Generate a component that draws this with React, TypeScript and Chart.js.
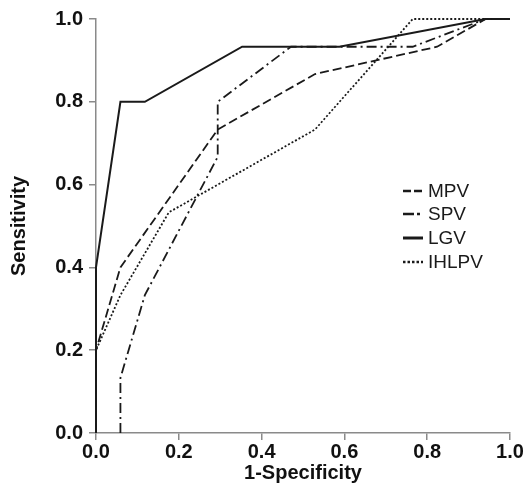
import React, { useEffect, useRef } from "react";
import { Chart, registerables } from "chart.js";

Chart.register(...registerables);

const seriesNames = ["MPV", "SPV", "LGV", "IHLPV"];
const mpvX = [0, 0, 0.059, 0.294, 0.529, 0.824, 0.941, 1];
const mpvY = [0, 0.2, 0.4, 0.733, 0.867, 0.933, 1, 1];
const spvX = [0.059, 0.059, 0.118, 0.294, 0.294, 0.471, 0.765, 0.941, 1];
const spvY = [0, 0.133, 0.333, 0.667, 0.8, 0.933, 0.933, 1, 1];
const lgvX = [0, 0, 0.059, 0.118, 0.353, 0.588, 0.941, 1];
const lgvY = [0, 0.4, 0.8, 0.8, 0.933, 0.933, 1, 1];
const ihlpvX = [0, 0, 0.059, 0.176, 0.529, 0.765, 1];
const ihlpvY = [0, 0.2, 0.333, 0.533, 0.733, 1, 1];
const tickValues = [0, 0.2, 0.4, 0.6, 0.8, 1.0];

const FONT = "'Liberation Sans', Arial, Helvetica, sans-serif";

function pts(xs: number[], ys: number[]) {
  return xs.map((x, i) => ({ x, y: ys[i] }));
}

const dashes: number[][] = [[9, 4], [10, 4, 2, 4], [], [2, 2]];
const widths = [1.8, 1.8, 2, 1.8];

const legendPlugin = {
  id: "insideLegend",
  afterDraw(chart: any) {
    const ctx = chart.ctx;
    ctx.save();
    ctx.font = `19px ${FONT}`;
    ctx.fillStyle = "#1a1a1a";
    ctx.textBaseline = "middle";
    const x0 = 403;
    const x1 = 423;
    const ys = [191, 214, 238, 262];
    seriesNames.forEach((name, i) => {
      ctx.beginPath();
      ctx.strokeStyle = "#1a1a1a";
      ctx.lineWidth = i === 2 ? 3 : 2.4;
      ctx.setLineDash(i === 3 ? [2.5, 2] : i === 0 ? [8, 3] : i === 1 ? [11, 3, 3, 3] : []);
      ctx.moveTo(x0, ys[i]);
      ctx.lineTo(x1, ys[i]);
      ctx.stroke();
      ctx.setLineDash([]);
      ctx.fillText(name, 428, ys[i] + 1);
    });
    ctx.restore();
  },
};

export default function App() {
  const ref = useRef<HTMLCanvasElement | null>(null);
  useEffect(() => {
    document.body.style.margin = "0";
    const data = [pts(mpvX, mpvY), pts(spvX, spvY), pts(lgvX, lgvY), pts(ihlpvX, ihlpvY)];
    const chart = new Chart(ref.current as HTMLCanvasElement, {
      type: "scatter",
      data: {
        datasets: seriesNames.map((name, i) => ({
          label: name,
          data: data[i],
          showLine: true,
          borderColor: "#1a1a1a",
          backgroundColor: "#1a1a1a",
          borderWidth: widths[i],
          borderDash: dashes[i],
          pointRadius: 0,
          fill: false,
          tension: 0,
          clip: 4,
        })),
      },
      options: {
        responsive: false,
        animation: false,
        layout: { padding: { top: 19, right: 16, left: 0, bottom: 0 } },
        plugins: { legend: { display: false }, tooltip: { enabled: false } },
        scales: {
          x: {
            type: "linear",
            min: 0,
            max: 1,
            afterFit: (s: any) => {
              s.height = 52;
            },
            afterBuildTicks: (s: any) => {
              s.ticks = tickValues.map((v) => ({ value: v }));
            },
            ticks: {
              callback: (v: any) => Number(v).toFixed(1),
              color: "#111",
              font: { family: FONT, size: 20, weight: "bold" },
              padding: 0,
              maxRotation: 0,
            },
            grid: {
              drawOnChartArea: false,
              drawTicks: true,
              tickLength: 7,
              color: "#8a8a8a",
              lineWidth: 1.5,
            },
            border: { display: true, color: "#8a8a8a", width: 1.5 },
            title: {
              display: true,
              text: "1-Specificity",
              color: "#111",
              font: { family: FONT, size: 20, weight: "bold" },
              padding: { top: 0, bottom: 0 },
            },
          },
          y: {
            type: "linear",
            min: 0,
            max: 1,
            afterFit: (s: any) => {
              s.width = 96;
            },
            afterBuildTicks: (s: any) => {
              s.ticks = tickValues.map((v) => ({ value: v }));
            },
            ticks: {
              callback: (v: any) => Number(v).toFixed(1),
              color: "#111",
              font: { family: FONT, size: 20, weight: "bold" },
              padding: 6,
            },
            grid: {
              drawOnChartArea: false,
              drawTicks: true,
              tickLength: 7,
              color: "#8a8a8a",
              lineWidth: 1.5,
            },
            border: { display: true, color: "#8a8a8a", width: 1.5 },
            title: {
              display: true,
              text: "Sensitivity",
              color: "#111",
              font: { family: FONT, size: 20, weight: "bold" },
              padding: { top: 7, bottom: 0 },
            },
          },
        },
      },
      plugins: [legendPlugin],
    } as any);
    return () => chart.destroy();
  }, []);
  return (
    <div style={{ position: "absolute", left: 0, top: 0, width: 526, height: 485, background: "#fff" }}>
      <canvas ref={ref} width={526} height={485} style={{ width: 526, height: 485 }} />
    </div>
  );
}
